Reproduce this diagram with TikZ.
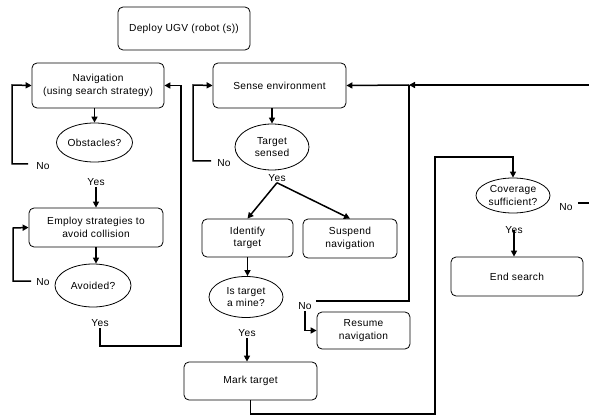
\documentclass[tikz,border=0pt]{standalone}
\usepackage{fontspec}
\setmainfont{Liberation Sans}[LetterSpace=3]
\usetikzlibrary{shapes.geometric,arrows.meta}
\begin{document}
\begin{tikzpicture}[x=1pt,y=-1pt,
  every node/.style={font=\fontsize{10.2}{12.5}\selectfont},
  box/.style={draw, line width=0.8pt, rounded corners=5pt, align=center, inner sep=0pt},
  dec/.style={draw, line width=0.8pt, ellipse, align=center, inner sep=0pt},
  lbl/.style={inner sep=1pt},
  ln/.style={line width=1.5pt},
  arr/.style={line width=1.5pt, -{Triangle[length=6pt,width=6pt]}}]
\useasboundingbox (0,0) rectangle (589,417);

% process boxes
\node[box, minimum width=132pt, minimum height=43pt] (deploy) at (184,28.5) {Deploy UGV (robot (s))};
\node[box, minimum width=132pt, minimum height=45pt] (nav) at (98,85.5) {Navigation\\(using search strategy)};
\node[box, minimum width=134pt, minimum height=39pt] (employ) at (96,227.5) {Employ strategies to\\avoid collision};
\node[box, minimum width=133pt, minimum height=45pt] (sense) at (279.5,85.5) {Sense environment};
\node[box, minimum width=91pt, minimum height=38pt] (identify) at (247.5,238) {Identify\\target};
\node[box, minimum width=94pt, minimum height=39pt] (suspend) at (350,238.5) {Suspend\\navigation};
\node[box, minimum width=133pt, minimum height=38pt] (mark) at (250.5,381) {Mark target};
\node[box, minimum width=93pt, minimum height=37pt] (resume) at (363.5,330.5) {Resume\\navigation};
\node[box, minimum width=132pt, minimum height=39pt] (endsearch) at (517,276.5) {End search};

% decisions
\node[dec, minimum width=75pt, minimum height=39pt] (obst) at (94.5,142.5) {Obstacles?};
\node[dec, minimum width=76pt, minimum height=43pt] (avoided) at (93,285.5) {Avoided?};
\node[dec, minimum width=74pt, minimum height=46pt] (tsensed) at (272,147) {Target\\sensed};
\node[dec, minimum width=74pt, minimum height=41pt] (mine) at (246,297) {Is target\\a mine?};
\node[dec, minimum width=74pt, minimum height=35pt] (coverage) at (513,195.5) {Coverage\\sufficient?};

% branch labels
\node[lbl] (noObst) at (43,166) {No};
\node[lbl] (yesObst) at (96,182) {Yes};
\node[lbl] (noAvoid) at (43,282) {No};
\node[lbl] (yesAvoid) at (100,323) {Yes};
\node[lbl] (noSense) at (224,163) {No};
\node[lbl] (yesSense) at (277,178) {Yes};
\node[lbl] (yesMine) at (247,333) {Yes};
\node[lbl] (noMine) at (305,306) {No};
\node[lbl] (yesCov) at (514,230) {Yes};
\node[lbl] (noCov) at (566,207) {No};

% routing points
\coordinate (navLoop) at (12,85);
\coordinate (empLoop) at (13,228);
\coordinate (avBack) at (181,346);
\coordinate (senseLoop) at (193,85);
\coordinate (senseJoin) at (409,85);
\coordinate (edgeTop) at (589,85);
\coordinate (markLow) at (435,414);
\coordinate (covFeed) at (435,157);
\coordinate (edgeMid) at (589,203);

% left column
\draw[arr] ([yshift=0pt]obst.north |- nav.south) -- (obst.north);
\draw[arr] ([xshift=-7pt,yshift=2pt]noObst.west) -| (navLoop) -- (nav.west);
\draw[arr] (yesObst.south) -- (yesObst.south |- employ.north);
\draw[arr] (employ.south) -- (employ.south |- avoided.north);
\draw[arr] ([xshift=-4pt,yshift=1pt]noAvoid.west) -| (empLoop) -- (employ.west);
\draw[arr] (yesAvoid.south) |- (avBack) |- (nav.east);

% middle column
\draw[arr] (tsensed.north |- sense.south) -- (tsensed.north);
\draw[arr] ([xshift=-5pt,yshift=2pt]noSense.west) -| (senseLoop) -- (sense.west);
\draw[arr] (yesSense.south) -- (identify.north);
\draw[arr] (yesSense.south) -- (suspend.north);
\draw[arr] (identify.south) -- (identify.south |- mine.north);
\draw[arr] (yesMine.south) -- (yesMine.south |- mark.north);
\draw[ln] ([xshift=3pt]noMine.north east) -| (senseJoin);
\draw[arr] (senseJoin) -- (sense.east);
\draw[arr] (noMine.south) |- (resume.west);
\draw[arr] (edgeTop) -- (senseJoin);

% right column
\draw[arr] (mark.south) |- (markLow) -- (covFeed) -| (coverage.north);
\draw[arr] (yesCov.center) -- (yesCov.center |- endsearch.north);
\draw[ln] ([xshift=4pt]noCov.east |- edgeMid) -- (edgeMid);
\end{tikzpicture}
\end{document}
